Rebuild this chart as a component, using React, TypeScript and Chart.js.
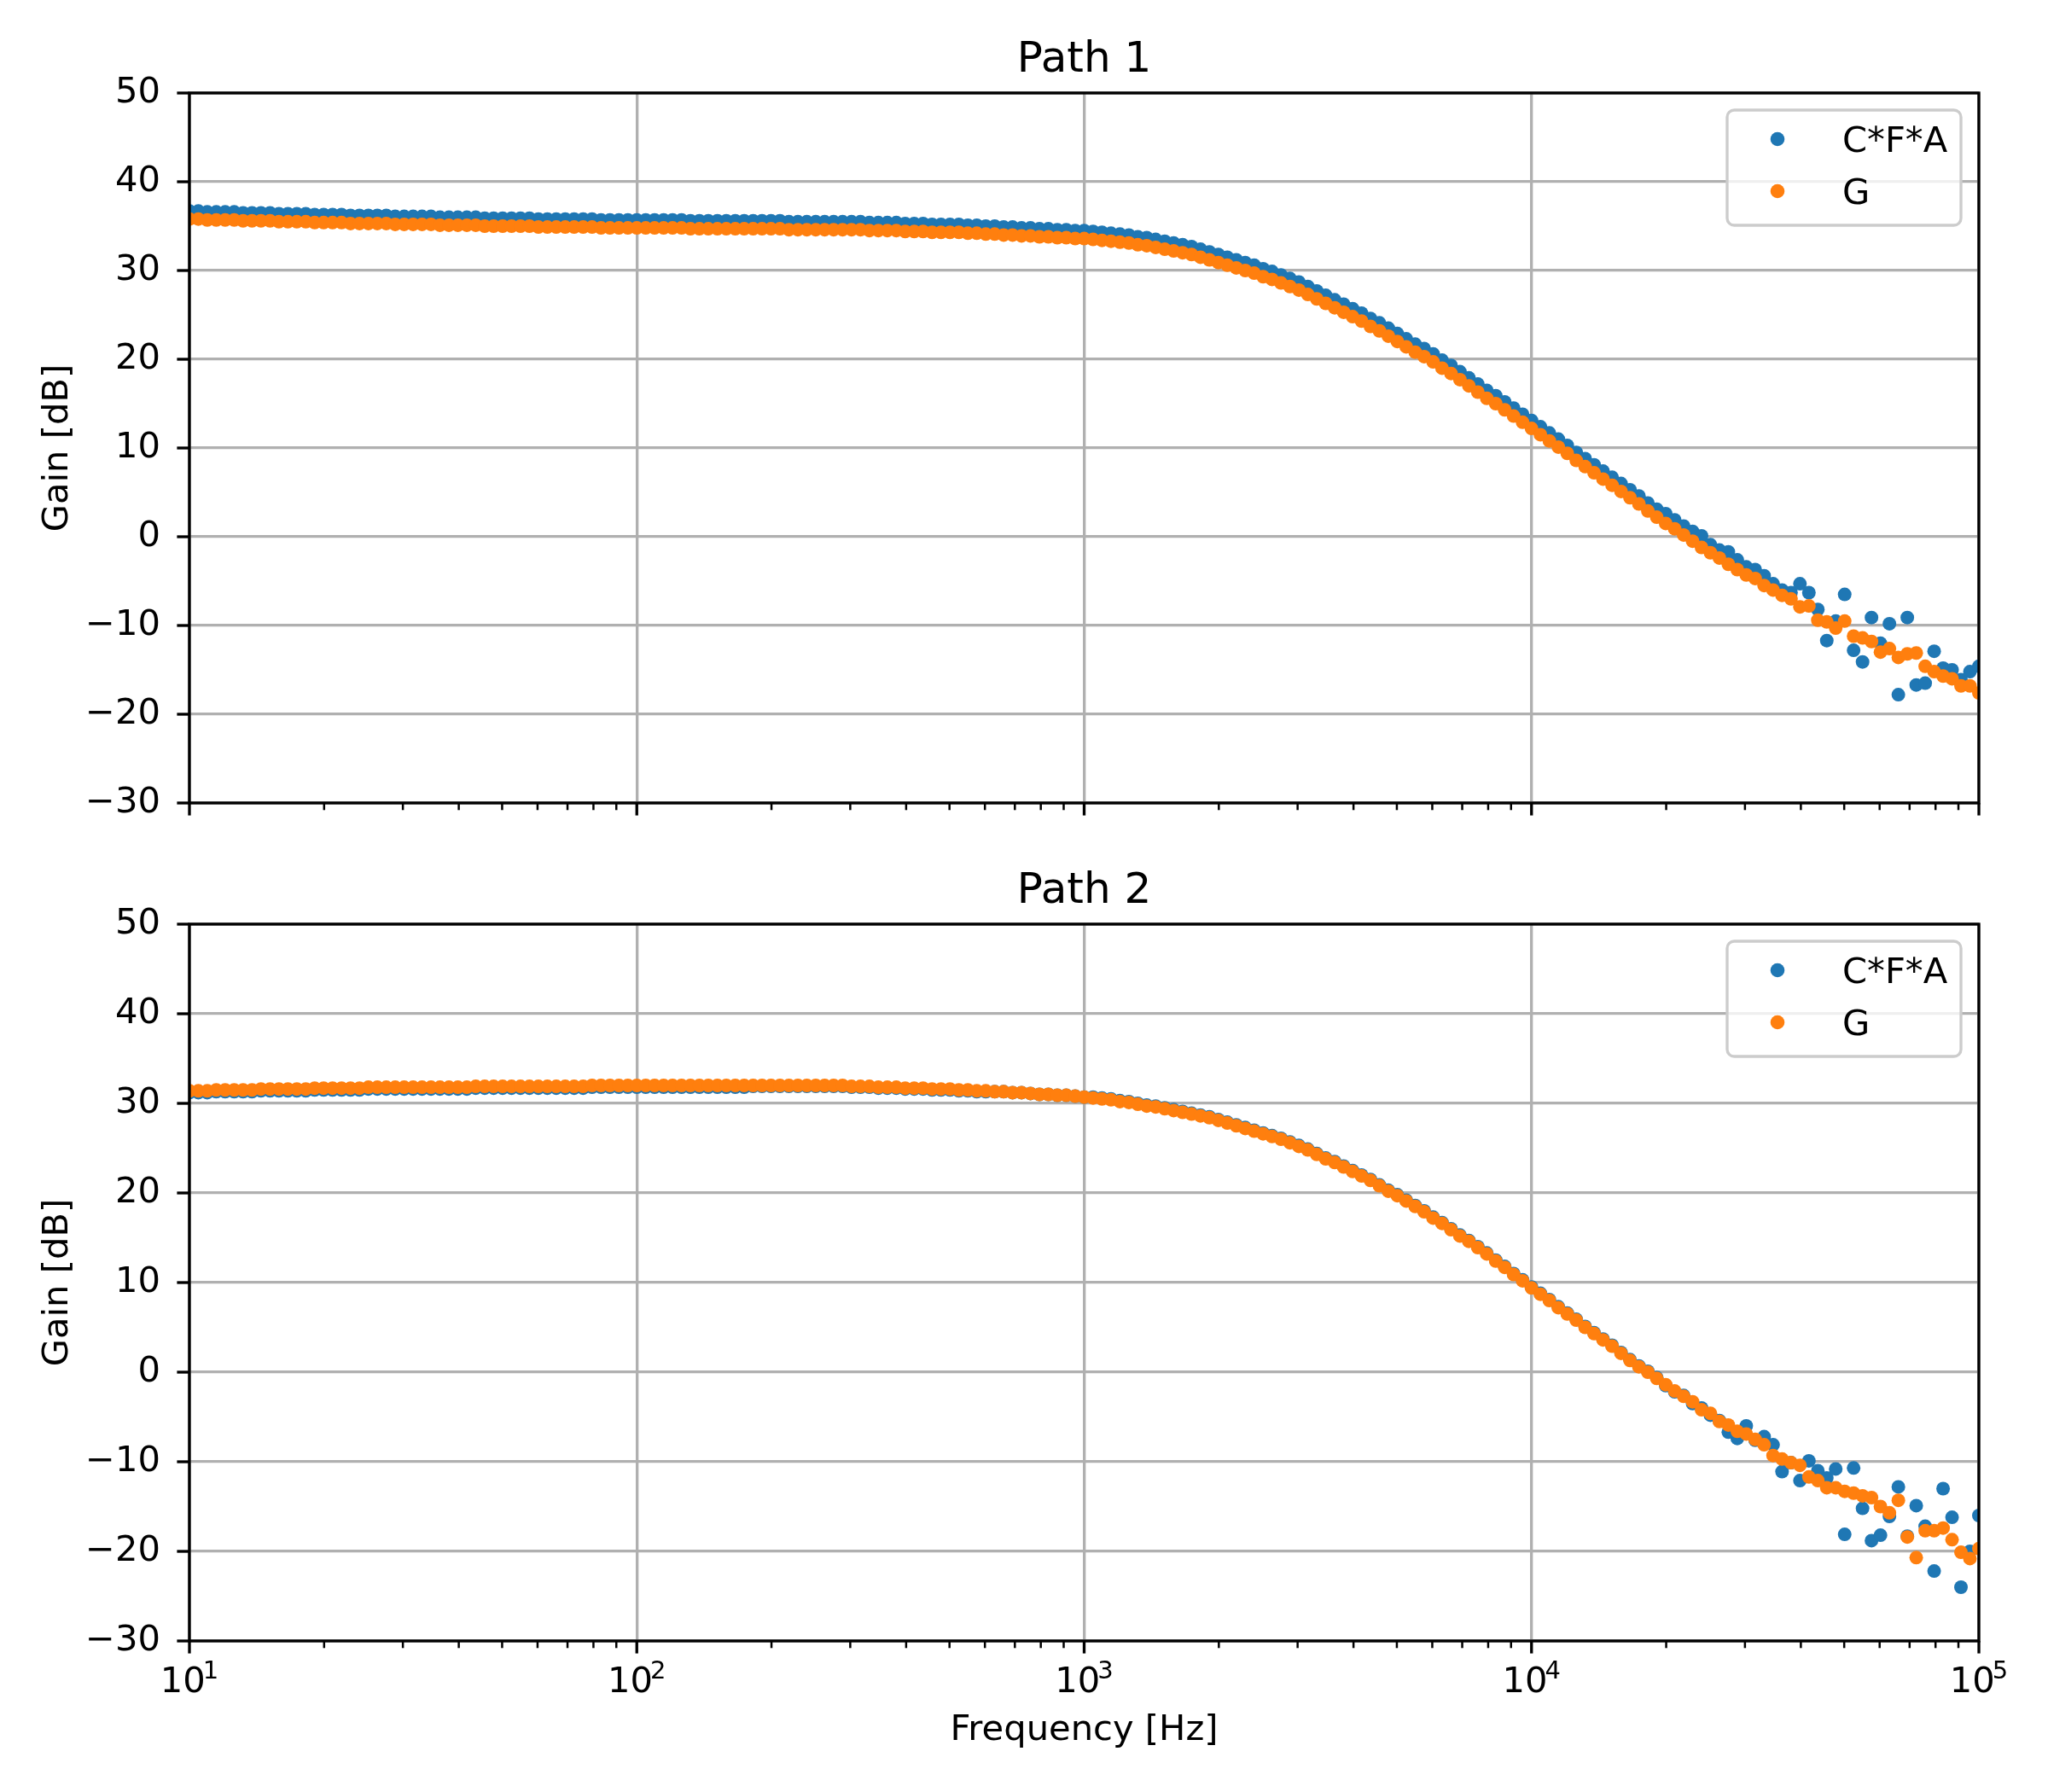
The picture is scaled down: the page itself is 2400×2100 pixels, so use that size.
import { useEffect, useRef } from "react";
import { Chart, registerables } from "chart.js";
import type { Plugin, Scale } from "chart.js";

Chart.register(...registerables);
Chart.defaults.font.family = '"DejaVu Sans"';

// sweep frequencies, 50 points per decade
const freqHz = [
  10, 10.47, 10.96, 11.48, 12.02, 12.59, 13.18, 13.8, 14.45, 15.14,
  15.85, 16.6, 17.38, 18.2, 19.05, 19.95, 20.89, 21.88, 22.91, 23.99,
  25.12, 26.3, 27.54, 28.84, 30.2, 31.62, 33.11, 34.67, 36.31, 38.02,
  39.81, 41.69, 43.65, 45.71, 47.86, 50.12, 52.48, 54.95, 57.54, 60.26,
  63.1, 66.07, 69.18, 72.44, 75.86, 79.43, 83.18, 87.1, 91.2, 95.5,
  100, 104.7, 109.6, 114.8, 120.2, 125.9, 131.8, 138, 144.5, 151.4,
  158.5, 166, 173.8, 182, 190.5, 199.5, 208.9, 218.8, 229.1, 239.9,
  251.2, 263, 275.4, 288.4, 302, 316.2, 331.1, 346.7, 363.1, 380.2,
  398.1, 416.9, 436.5, 457.1, 478.6, 501.2, 524.8, 549.5, 575.4, 602.6,
  631, 660.7, 691.8, 724.4, 758.6, 794.3, 831.8, 871, 912, 955,
  1000, 1047, 1096, 1148, 1202, 1259, 1318, 1380, 1445, 1514,
  1585, 1660, 1738, 1820, 1905, 1995, 2089, 2188, 2291, 2399,
  2512, 2630, 2754, 2884, 3020, 3162, 3311, 3467, 3631, 3802,
  3981, 4169, 4365, 4571, 4786, 5012, 5248, 5495, 5754, 6026,
  6310, 6607, 6918, 7244, 7586, 7943, 8318, 8710, 9120, 9550,
  10000, 10470, 10960, 11480, 12020, 12590, 13180, 13800, 14450, 15140,
  15850, 16600, 17380, 18200, 19050, 19950, 20890, 21880, 22910, 23990,
  25120, 26300, 27540, 28840, 30200, 31620, 33110, 34670, 36310, 38020,
  39810, 41690, 43650, 45710, 47860, 50120, 52480, 54950, 57540, 60260,
  63100, 66070, 69180, 72440, 75860, 79430, 83180, 87100, 91200, 95500,
  100000,
];

const path1Cfa = [
  36.7, 36.7, 36.6, 36.6, 36.6, 36.6, 36.5, 36.5, 36.5, 36.5,
  36.4, 36.4, 36.4, 36.4, 36.3, 36.3, 36.3, 36.3, 36.2, 36.2,
  36.2, 36.2, 36.2, 36.1, 36.1, 36.1, 36.1, 36.1, 36.0, 36.0,
  36.0, 36.0, 36.0, 35.9, 35.9, 35.9, 35.9, 35.9, 35.9, 35.8,
  35.8, 35.8, 35.8, 35.8, 35.8, 35.8, 35.7, 35.7, 35.7, 35.7,
  35.7, 35.7, 35.7, 35.7, 35.7, 35.7, 35.6, 35.6, 35.6, 35.6,
  35.6, 35.6, 35.6, 35.6, 35.6, 35.6, 35.6, 35.5, 35.5, 35.5,
  35.5, 35.5, 35.5, 35.5, 35.5, 35.5, 35.4, 35.4, 35.4, 35.4,
  35.3, 35.3, 35.3, 35.2, 35.2, 35.2, 35.2, 35.1, 35.1, 35.0,
  35.0, 34.9, 34.9, 34.8, 34.8, 34.7, 34.7, 34.6, 34.6, 34.5,
  34.5, 34.4, 34.3, 34.2, 34.1, 34.0, 33.8, 33.7, 33.5, 33.3,
  33.1, 32.9, 32.7, 32.4, 32.1, 31.8, 31.5, 31.2, 30.9, 30.6,
  30.2, 29.9, 29.5, 29.1, 28.7, 28.2, 27.7, 27.2, 26.7, 26.2,
  25.7, 25.2, 24.6, 24.1, 23.5, 22.9, 22.3, 21.7, 21.2, 20.6,
  19.9, 19.3, 18.6, 17.9, 17.2, 16.5, 15.9, 15.2, 14.5, 13.8,
  13.1, 12.4, 11.7, 11.0, 10.3, 9.5, 8.8, 8.1, 7.4, 6.7,
  6.0, 5.3, 4.6, 3.8, 3.1, 2.6, 1.9, 1.2, 0.6, 0.1,
  -0.9, -1.5, -1.7, -2.6, -3.4, -3.7, -4.4, -5.3, -6.0, -6.3,
  -5.3, -6.3, -8.2, -11.7, -9.5, -6.5, -12.8, -14.1, -9.1, -12.0,
  -9.8, -17.8, -9.1, -16.7, -16.5, -12.9, -14.8, -15.0, -16.1, -15.2,
  -14.6,
];

const path1G = [
  35.8, 35.8, 35.7, 35.7, 35.7, 35.7, 35.6, 35.6, 35.6, 35.6,
  35.5, 35.5, 35.5, 35.5, 35.4, 35.4, 35.4, 35.4, 35.3, 35.3,
  35.3, 35.3, 35.3, 35.2, 35.2, 35.2, 35.2, 35.2, 35.1, 35.1,
  35.1, 35.1, 35.1, 35.0, 35.0, 35.0, 35.0, 35.0, 35.0, 34.9,
  34.9, 34.9, 34.9, 34.9, 34.9, 34.9, 34.8, 34.8, 34.8, 34.8,
  34.8, 34.8, 34.8, 34.8, 34.8, 34.8, 34.7, 34.7, 34.7, 34.7,
  34.7, 34.7, 34.7, 34.7, 34.7, 34.7, 34.7, 34.6, 34.6, 34.6,
  34.6, 34.6, 34.6, 34.6, 34.6, 34.6, 34.5, 34.5, 34.5, 34.5,
  34.4, 34.4, 34.4, 34.3, 34.3, 34.3, 34.3, 34.2, 34.2, 34.1,
  34.1, 34.0, 34.0, 33.9, 33.9, 33.8, 33.8, 33.7, 33.7, 33.6,
  33.6, 33.5, 33.4, 33.3, 33.2, 33.1, 32.9, 32.8, 32.6, 32.4,
  32.2, 32.0, 31.8, 31.5, 31.2, 30.9, 30.6, 30.3, 30.0, 29.7,
  29.3, 29.0, 28.6, 28.2, 27.8, 27.3, 26.8, 26.3, 25.8, 25.3,
  24.8, 24.3, 23.7, 23.2, 22.6, 22.0, 21.4, 20.8, 20.3, 19.7,
  19.0, 18.4, 17.7, 17.0, 16.3, 15.6, 15.0, 14.3, 13.6, 12.9,
  12.2, 11.5, 10.8, 10.1, 9.4, 8.6, 7.9, 7.2, 6.5, 5.8,
  5.1, 4.4, 3.7, 2.9, 2.2, 1.5, 0.9, 0.2, -0.5, -1.2,
  -1.8, -2.4, -3.1, -3.7, -4.3, -4.7, -5.5, -6.0, -6.6, -7.0,
  -7.9, -7.8, -9.4, -9.6, -10.3, -9.5, -11.2, -11.4, -11.8, -13.0,
  -12.6, -13.6, -13.2, -13.1, -14.6, -15.2, -15.7, -16.0, -16.8, -16.8,
  -17.6,
];

const path2Cfa = [
  31.2, 31.2, 31.2, 31.3, 31.3, 31.3, 31.3, 31.3, 31.4, 31.4,
  31.4, 31.4, 31.4, 31.4, 31.5, 31.5, 31.5, 31.5, 31.5, 31.5,
  31.6, 31.6, 31.6, 31.6, 31.6, 31.6, 31.6, 31.6, 31.6, 31.6,
  31.6, 31.6, 31.7, 31.7, 31.7, 31.7, 31.7, 31.7, 31.7, 31.7,
  31.7, 31.7, 31.7, 31.7, 31.7, 31.8, 31.8, 31.8, 31.8, 31.8,
  31.8, 31.8, 31.8, 31.8, 31.8, 31.8, 31.8, 31.8, 31.8, 31.8,
  31.8, 31.8, 31.8, 31.9, 31.9, 31.9, 31.9, 31.9, 31.9, 31.9,
  31.9, 31.9, 31.9, 31.9, 31.8, 31.8, 31.8, 31.7, 31.7, 31.7,
  31.6, 31.6, 31.6, 31.5, 31.5, 31.5, 31.4, 31.4, 31.3, 31.3,
  31.3, 31.3, 31.2, 31.2, 31.1, 31.0, 31.0, 30.9, 30.9, 30.8,
  30.7, 30.7, 30.6, 30.5, 30.3, 30.2, 30.0, 29.8, 29.7, 29.5,
  29.3, 29.1, 28.9, 28.7, 28.5, 28.2, 27.9, 27.6, 27.3, 27.0,
  26.7, 26.4, 26.1, 25.7, 25.3, 24.9, 24.4, 23.9, 23.5, 23.0,
  22.5, 22.0, 21.5, 20.9, 20.3, 19.8, 19.2, 18.6, 18.0, 17.3,
  16.7, 16.0, 15.3, 14.7, 14.0, 13.3, 12.5, 11.8, 11.0, 10.3,
  9.5, 8.8, 8.1, 7.3, 6.6, 5.9, 5.1, 4.4, 3.7, 3.0,
  2.2, 1.4, 0.7, 0.1, -0.6, -1.5, -2.2, -2.6, -3.5, -4.0,
  -4.8, -5.4, -6.7, -7.4, -6.0, -7.6, -7.2, -8.1, -11.1, -10.1,
  -12.1, -9.9, -11.0, -11.8, -10.8, -18.1, -10.7, -15.2, -18.8, -18.2,
  -16.1, -12.8, -18.3, -14.9, -17.2, -22.2, -13.0, -16.2, -24.0, -20.0,
  -16.0,
];

const path2G = [
  31.4, 31.4, 31.4, 31.5, 31.5, 31.5, 31.5, 31.5, 31.6, 31.6,
  31.6, 31.6, 31.6, 31.6, 31.7, 31.7, 31.7, 31.7, 31.7, 31.7,
  31.8, 31.8, 31.8, 31.8, 31.8, 31.8, 31.8, 31.8, 31.8, 31.8,
  31.8, 31.8, 31.9, 31.9, 31.9, 31.9, 31.9, 31.9, 31.9, 31.9,
  31.9, 31.9, 31.9, 31.9, 31.9, 32.0, 32.0, 32.0, 32.0, 32.0,
  32.0, 32.0, 32.0, 32.0, 32.0, 32.0, 32.0, 32.0, 32.0, 32.0,
  32.0, 32.0, 32.0, 32.0, 32.0, 32.0, 32.0, 32.0, 32.0, 32.0,
  32.0, 32.0, 32.0, 32.0, 31.9, 31.9, 31.9, 31.8, 31.8, 31.8,
  31.7, 31.7, 31.7, 31.6, 31.6, 31.6, 31.5, 31.5, 31.4, 31.4,
  31.3, 31.3, 31.2, 31.2, 31.1, 31.0, 31.0, 30.9, 30.9, 30.8,
  30.7, 30.6, 30.5, 30.4, 30.2, 30.1, 29.9, 29.7, 29.6, 29.4,
  29.2, 29.0, 28.8, 28.6, 28.4, 28.1, 27.8, 27.5, 27.2, 26.9,
  26.6, 26.3, 26.0, 25.6, 25.2, 24.8, 24.3, 23.8, 23.4, 22.9,
  22.4, 21.9, 21.4, 20.8, 20.2, 19.7, 19.1, 18.5, 17.9, 17.2,
  16.6, 15.9, 15.2, 14.6, 13.9, 13.2, 12.4, 11.7, 10.9, 10.2,
  9.4, 8.7, 8.0, 7.2, 6.5, 5.8, 5.0, 4.3, 3.6, 2.9,
  2.1, 1.3, 0.6, 0.0, -0.7, -1.4, -2.1, -2.7, -3.3, -4.2,
  -4.6, -5.5, -5.9, -6.6, -6.9, -7.5, -8.1, -9.3, -9.7, -10.1,
  -10.4, -11.7, -12.1, -12.9, -12.9, -13.3, -13.5, -13.8, -14.0, -15.0,
  -15.7, -14.3, -18.4, -20.7, -17.7, -17.7, -17.4, -18.7, -20.1, -20.8,
  -19.7,
];

const seriesNames = ["C*F*A", "G"];
const decades = [10, 100, 1000, 10000, 100000];
const decadeExponents = ["1", "2", "3", "4", "5"];
const minorSteps = [2, 3, 4, 5, 6, 7, 8, 9];

const BLUE = "#1f77b4";
const ORANGE = "#ff7f0e";
const GRID = "#b0b0b0";
const FS = 41.67; // 10pt @ 300 dpi
const LW = 3.33; // 0.8pt
const AREA_LEFT = 222;
const AREA_RIGHT = 2319;

const isDecade = (v: number) => {
  const l = Math.log10(v);
  return Math.abs(l - Math.round(l)) < 1e-6;
};

const xTicks: number[] = [];
decades.forEach((d, i) => {
  xTicks.push(d);
  if (i < decades.length - 1) minorSteps.forEach((m) => xTicks.push(m * d));
});

const decorations: Plugin<"scatter"> = {
  id: "decorations",
  afterDraw(chart, _args, opts: any) {
    const { ctx, chartArea: a } = chart;
    const xs = chart.scales.x;
    const ys = chart.scales.y;
    ctx.save();

    // tick marks
    ctx.strokeStyle = "#000";
    ctx.lineCap = "butt";
    xs.ticks.forEach((t) => {
      const major = isDecade(t.value);
      const px = xs.getPixelForValue(t.value);
      ctx.lineWidth = major ? LW : 2.5;
      ctx.beginPath();
      ctx.moveTo(px, a.bottom);
      ctx.lineTo(px, a.bottom + (major ? 14.6 : 8.3));
      ctx.stroke();
    });
    ys.ticks.forEach((t) => {
      const py = ys.getPixelForValue(t.value);
      ctx.lineWidth = LW;
      ctx.beginPath();
      ctx.moveTo(a.left - 14.6, py);
      ctx.lineTo(a.left, py);
      ctx.stroke();
    });

    // axes frame
    ctx.lineWidth = LW;
    ctx.strokeRect(a.left, a.top, a.right - a.left, a.bottom - a.top);

    // title
    ctx.fillStyle = "#000";
    ctx.textAlign = "center";
    ctx.textBaseline = "alphabetic";
    ctx.font = '50px "DejaVu Sans"';
    ctx.fillText(opts.title, (a.left + a.right) / 2, a.top - 25);

    // y label
    ctx.save();
    ctx.translate(79, (a.top + a.bottom) / 2);
    ctx.rotate(-Math.PI / 2);
    ctx.font = `${FS}px "DejaVu Sans"`;
    ctx.fillText("Gain [dB]", 0, 0);
    ctx.restore();

    // x tick labels and x label
    if (opts.showXLabels) {
      const base = a.bottom + 60;
      decades.forEach((d, i) => {
        const px = xs.getPixelForValue(d);
        ctx.font = `${FS}px "DejaVu Sans"`;
        const w1 = ctx.measureText("10").width;
        ctx.font = '29px "DejaVu Sans"';
        const w2 = ctx.measureText(decadeExponents[i]).width;
        const x0 = px - (w1 + w2 - 3) / 2;
        ctx.textAlign = "left";
        ctx.font = `${FS}px "DejaVu Sans"`;
        ctx.fillText("10", x0, base);
        ctx.font = '29px "DejaVu Sans"';
        ctx.fillText(decadeExponents[i], x0 + w1 - 3, base - 16);
      });
      ctx.textAlign = "center";
      ctx.font = `${FS}px "DejaVu Sans"`;
      ctx.fillText("Frequency [Hz]", (a.left + a.right) / 2, a.bottom + 116);
    }

    // legend
    const bx0 = a.right - 295;
    const bx1 = a.right - 21;
    const by0 = a.top + 20;
    const by1 = a.top + 155;
    const r = 8.3;
    ctx.beginPath();
    ctx.moveTo(bx0 + r, by0);
    ctx.arcTo(bx1, by0, bx1, by1, r);
    ctx.arcTo(bx1, by1, bx0, by1, r);
    ctx.arcTo(bx0, by1, bx0, by0, r);
    ctx.arcTo(bx0, by0, bx1, by0, r);
    ctx.closePath();
    ctx.fillStyle = "rgba(255,255,255,0.8)";
    ctx.fill();
    ctx.strokeStyle = "#cccccc";
    ctx.lineWidth = LW;
    ctx.stroke();
    [BLUE, ORANGE].forEach((c, i) => {
      ctx.fillStyle = c;
      ctx.beginPath();
      ctx.arc(a.right - 236, a.top + 54 + 61 * i, 8.3, 0, Math.PI * 2);
      ctx.fill();
      ctx.fillStyle = "#000";
      ctx.textAlign = "left";
      ctx.font = `${FS}px "DejaVu Sans"`;
      ctx.fillText(seriesNames[i], a.right - 160, a.top + 69 + 61 * i);
    });

    ctx.restore();
  },
};

type PanelProps = {
  title: string;
  cfa: number[];
  g: number[];
  top: number;
  height: number;
  areaTop: number;
  areaBottom: number;
  showXLabels: boolean;
};

const Panel = ({ title, cfa, g, top, height, areaTop, areaBottom, showXLabels }: PanelProps) => {
  const ref = useRef<HTMLCanvasElement>(null);

  useEffect(() => {
    const chart = new Chart(ref.current!, {
      type: "scatter",
      data: {
        datasets: [
          {
            label: seriesNames[0],
            data: freqHz.map((x, i) => ({ x, y: cfa[i] })),
            pointBackgroundColor: BLUE,
            backgroundColor: BLUE,
            pointRadius: 8,
            pointBorderWidth: 0,
            order: 2,
            clip: 0,
          },
          {
            label: seriesNames[1],
            data: freqHz.map((x, i) => ({ x, y: g[i] })),
            pointBackgroundColor: ORANGE,
            backgroundColor: ORANGE,
            pointRadius: 8,
            pointBorderWidth: 0,
            order: 1,
            clip: 0,
          },
        ],
      },
      options: {
        responsive: false,
        animation: false,
        devicePixelRatio: 1,
        events: [],
        layout: { padding: { left: 0, right: 2400 - AREA_RIGHT, top: areaTop, bottom: 0 } },
        plugins: {
          legend: { display: false },
          tooltip: { enabled: false },
          // @ts-ignore
          decorations: { title, showXLabels },
        },
        scales: {
          x: {
            type: "logarithmic",
            min: 10,
            max: 100000,
            afterBuildTicks: (s: Scale) => {
              s.ticks = xTicks.map((v) => ({ value: v, major: isDecade(v) }));
            },
            afterFit: (s: Scale) => {
              s.height = height - areaBottom;
            },
            ticks: { display: false },
            grid: {
              drawTicks: false,
              lineWidth: LW,
              color: (c: any) => (isDecade(c.tick.value) ? GRID : "rgba(0,0,0,0)"),
            },
            border: { display: false },
          },
          y: {
            type: "linear",
            min: -30,
            max: 50,
            afterFit: (s: Scale) => {
              s.width = AREA_LEFT;
            },
            ticks: {
              stepSize: 10,
              padding: 34,
              color: "#000",
              font: { size: FS },
              callback: (v: any) => (v < 0 ? "\u2212" + Math.abs(v) : String(v)),
            },
            grid: { drawTicks: false, lineWidth: LW, color: GRID },
            border: { display: false },
          },
        },
      },
      plugins: [decorations],
    });
    return () => chart.destroy();
  }, [title, cfa, g, height, areaTop, areaBottom, showXLabels]);

  return (
    <canvas
      ref={ref}
      width={2400}
      height={height}
      style={{ position: "absolute", left: 0, top, width: 2400, height, display: "block" }}
    />
  );
};

export default function App() {
  return (
    <div style={{ position: "absolute", left: 0, top: 0, width: 2400, height: 2100, background: "#fff" }}>
      <Panel title="Path 1" cfa={path1Cfa} g={path1G} top={0} height={1000} areaTop={109} areaBottom={949} showXLabels={false} />
      <Panel title="Path 2" cfa={path2Cfa} g={path2G} top={1000} height={1100} areaTop={83} areaBottom={923} showXLabels={true} />
    </div>
  );
}
